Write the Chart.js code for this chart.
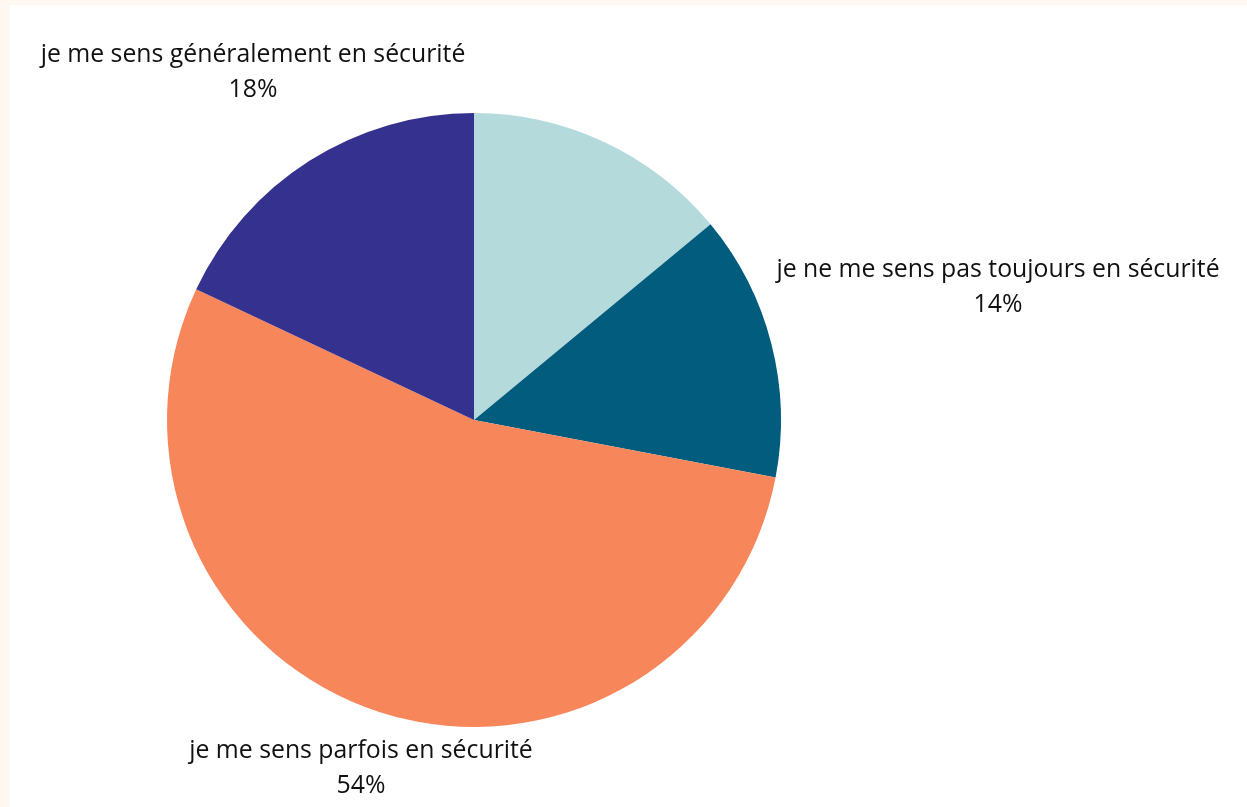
<!DOCTYPE html>
<html lang="fr">
<head>
<meta charset="utf-8">
<script src="https://cdn.jsdelivr.net/npm/chart.js@4"></script>
<style>
  html, body { margin: 0; padding: 0; background: #fff7f2; overflow: hidden; }
  #cadre { position: absolute; left: 10px; top: 5px; width: 1237px; height: 802px; background: #ffffff; }
  canvas { display: block; }
</style>
</head>
<body>
<div id="cadre"><canvas id="graficoSecurite" width="1237" height="802"></canvas></div>
<script>
// Données
const categories = [
  '',
  'je ne me sens pas toujours en sécurité',
  'je me sens parfois en sécurité',
  'je me sens généralement en sécurité'
];
const pourcentages = [14, 14, 54, 18];
const couleurs = ['#b4dadc', '#015c7d', '#f7865a', '#34318f'];

// Position des étiquettes (décalage depuis le centre du camembert, en px)
const decalages = [null, [524, -150], [-113, 331], [-221, -365]];

const etiquettesPlugin = {
  id: 'etiquettes',
  afterDraw(chart) {
    const { ctx } = chart;
    const meta = chart.getDatasetMeta(0);
    ctx.save();
    ctx.font = '24.8px "Open Sans", sans-serif';
    ctx.fillStyle = '#111111';
    ctx.textAlign = 'center';
    ctx.textBaseline = 'middle';
    meta.data.forEach((arc, i) => {
      if (!categories[i] || !decalages[i]) return;
      const x = arc.x + decalages[i][0];
      const y = arc.y + decalages[i][1];
      ctx.fillText(categories[i], x, y);
      ctx.fillText(pourcentages[i] + '%', x, y + 35);
    });
    ctx.restore();
  }
};

new Chart(document.getElementById('graficoSecurite'), {
  type: 'pie',
  data: {
    labels: categories,
    datasets: [{
      data: pourcentages,
      backgroundColor: couleurs,
      borderWidth: 0
    }]
  },
  options: {
    responsive: false,
    animation: false,
    layout: { padding: { left: 157, top: 108, right: 466, bottom: 80 } },
    plugins: {
      legend: { display: false },
      tooltip: { enabled: false }
    }
  },
  plugins: [etiquettesPlugin]
});
</script>
</body>
</html>
